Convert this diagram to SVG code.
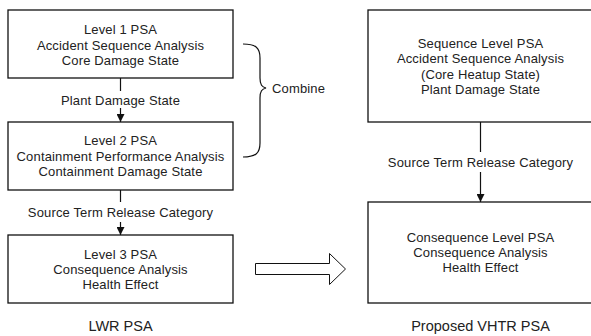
<svg xmlns="http://www.w3.org/2000/svg" width="591" height="336" viewBox="0 0 591 336">
<defs>
<style>
.box{fill:#fff;stroke:#111;stroke-width:1.3}
.ln{fill:none;stroke:#111;stroke-width:1.2}
text{font-family:"Liberation Sans",Arial,sans-serif;font-size:13px;letter-spacing:0.15px;fill:#222;text-anchor:middle}
.big{font-size:14.5px;letter-spacing:0}
</style>
<marker id="ah" markerWidth="8" markerHeight="8" refX="8" refY="4" orient="auto" markerUnits="userSpaceOnUse">
<path d="M0,0 L8,4 L0,8 Z" fill="#111"/>
</marker>
</defs>
<rect width="591" height="336" fill="#fff"/>
<g id="connectors">
<line class="ln" x1="120.5" y1="78" x2="120.5" y2="91"/>
<line class="ln" x1="120.5" y1="108" x2="120.5" y2="122" marker-end="url(#ah)"/>
<line class="ln" x1="120.5" y1="190" x2="120.5" y2="202"/>
<line class="ln" x1="120.5" y1="222" x2="120.5" y2="235" marker-end="url(#ah)"/>
<line class="ln" x1="480.5" y1="122" x2="480.5" y2="152"/>
<line class="ln" x1="480.5" y1="172" x2="480.5" y2="202" marker-end="url(#ah)"/>
<path class="ln" d="M243,44 C256,44 260,48 260,58 L260,78 C260,85 262,87 266,88 C262,89 260,91 260,98 L260,143 C260,153 256,157 243,157"/>
<path d="M255.5,263.5 L329.5,263.5 L329.5,253.5 L345.5,269 L329.5,284.5 L329.5,274.5 L255.5,274.5 Z" fill="#fff" stroke="#111" stroke-width="1"/>
</g>
<g id="level1">
<rect class="box" x="8" y="10" width="225" height="68"/>
<text x="120.5" y="33.5">Level 1 PSA</text>
<text x="120.5" y="49.5">Accident Sequence Analysis</text>
<text x="120.5" y="64.5">Core Damage State</text>
</g>
<text x="120.5" y="104.5">Plant Damage State</text>
<g id="level2">
<rect class="box" x="8" y="122" width="225" height="68"/>
<text x="120.5" y="144.5">Level 2 PSA</text>
<text x="120.5" y="160.5">Containment Performance Analysis</text>
<text x="120.5" y="176">Containment Damage State</text>
</g>
<text x="120.5" y="217">Source Term Release Category</text>
<g id="level3">
<rect class="box" x="8" y="235" width="225" height="68"/>
<text x="120.5" y="258.5">Level 3 PSA</text>
<text x="120.5" y="273.5">Consequence Analysis</text>
<text x="120.5" y="288.5">Health Effect</text>
</g>
<text x="272" y="92.5" style="text-anchor:start">Combine</text>
<text class="big" x="120.5" y="331">LWR PSA</text>
<g id="seqlevel">
<rect class="box" x="368" y="10" width="230" height="112"/>
<text x="480.5" y="47.5">Sequence Level PSA</text>
<text x="480.5" y="63">Accident Sequence Analysis</text>
<text x="480.5" y="78.5">(Core Heatup State)</text>
<text x="480.5" y="93.5">Plant Damage State</text>
</g>
<text x="480.5" y="167">Source Term Release Category</text>
<g id="conslevel">
<rect class="box" x="368" y="202" width="230" height="101"/>
<text x="480.5" y="241.5">Consequence Level PSA</text>
<text x="480.5" y="257">Consequence Analysis</text>
<text x="480.5" y="271.5">Health Effect</text>
</g>
<text class="big" x="480.5" y="331">Proposed VHTR PSA</text>
</svg>
